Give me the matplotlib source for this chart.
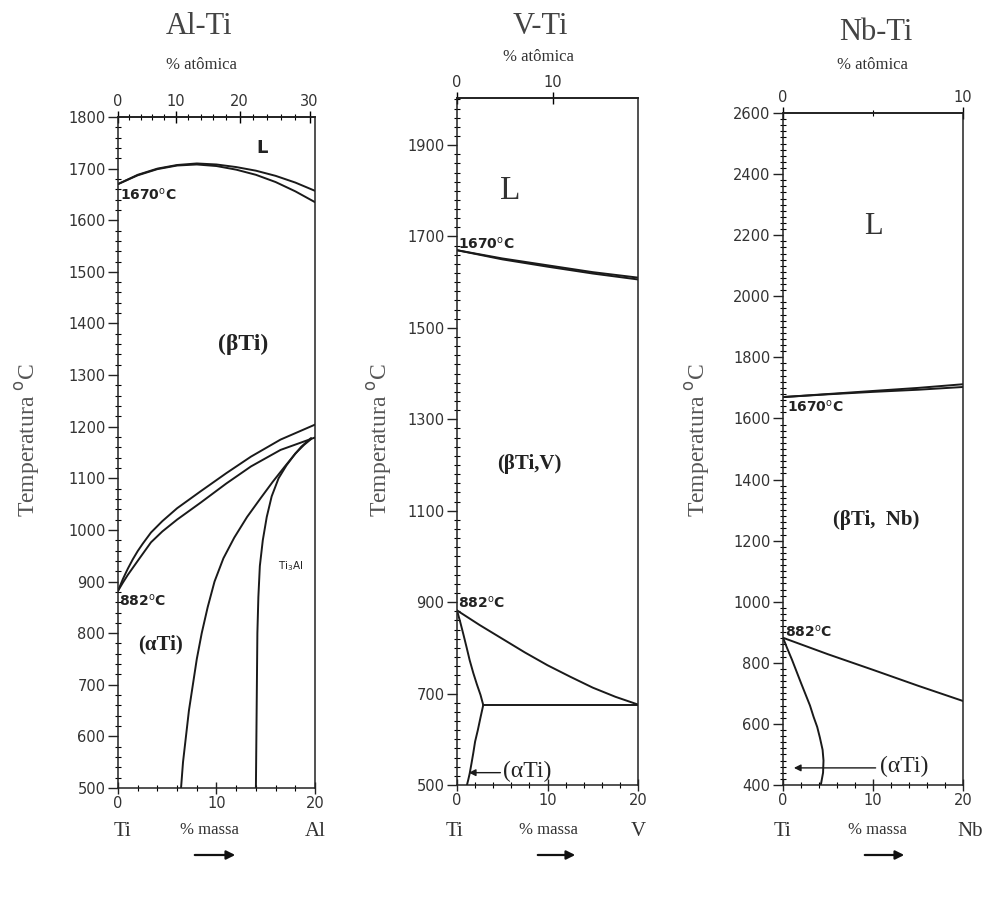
import numpy as np
from matplotlib import pyplot as plt
from matplotlib.ticker import AutoMinorLocator, MultipleLocator, FixedLocator

W, H = 1003, 900

# ---- Al-Ti (x = % massa Al, y = temperatura)
alti_liq_x = [0, 2, 4, 6, 8, 10, 12, 14, 16, 18, 20]
alti_liq_t = [1670, 1688, 1700, 1707, 1710, 1708, 1703, 1696, 1686, 1673, 1657]
alti_sol_t = [1670, 1687, 1699, 1706, 1708, 1705, 1698, 1688, 1674, 1656, 1635]
alti_bup_x = [0, 0.5, 1, 1.5, 2, 2.5, 3.35, 4.5, 6, 8.4, 11, 13.5, 16.5, 20]
alti_bup_t = [882, 905, 925, 943, 959, 973, 995, 1017, 1042, 1075, 1110, 1142, 1175, 1204]
alti_blo_x = [0, 0.5, 1, 2, 3.35, 4.5, 6, 8.4, 11, 13.5, 16.5, 20]
alti_blo_t = [882, 898, 913, 940, 976, 997, 1020, 1053, 1090, 1123, 1155, 1179]
alti_alpha_x = [6.4, 6.6, 6.9, 7.2, 7.6, 8.0, 8.5, 9.1, 9.8, 10.7, 11.8, 13.1, 14.5, 15.7,
                16.9, 17.8, 18.6, 19.6]
alti_alpha_t = [500, 550, 600, 650, 700, 750, 800, 850, 900, 945, 985, 1025, 1062, 1093,
                1122, 1143, 1161, 1178]
alti_ti3al_x = [14.0, 14.05, 14.1, 14.15, 14.25, 14.4, 14.7, 15.1, 15.6, 16.3, 17.1, 18.0,
                18.9, 19.6]
alti_ti3al_t = [500, 600, 700, 800, 870, 930, 980, 1025, 1065, 1100, 1125, 1148, 1165, 1176]

# ---- V-Ti
vti_liq_x = [0, 5, 10, 15, 20]
vti_liq_t = [1670, 1652, 1637, 1622, 1610]
vti_sol_t = [1670, 1650, 1634, 1619, 1606]
vti_beta_x = [0, 2.5, 5, 7.5, 10, 12.5, 15, 17.5, 20]
vti_beta_t = [882, 850, 820, 790, 762, 737, 713, 693, 676]
vti_eut_x = [2.9, 20]
vti_eut_t = [675, 675]
vti_alpha_x = [0, 0.35, 0.7, 1.05, 1.4, 1.8, 2.2, 2.6, 2.9, 2.6, 2.3, 2.0, 1.8, 1.6, 1.4, 1.25, 1.1]
vti_alpha_t = [882, 857, 830, 802, 773, 745, 720, 697, 675, 648, 620, 595, 570, 547, 525, 512, 500]

# ---- Nb-Ti
nbti_liq_x = [0, 5, 10, 15, 20]
nbti_liq_t = [1670, 1680, 1690, 1700, 1712]
nbti_sol_t = [1670, 1679, 1687, 1694, 1703]
nbti_beta_x = [0, 5, 10, 15, 20]
nbti_beta_t = [882, 828, 777, 725, 675]
nbti_alpha_x = [0, 0.5, 1, 1.5, 2, 2.5, 3, 3.4, 3.8, 4.1, 4.4, 4.5, 4.45, 4.2]
nbti_alpha_t = [882, 845, 810, 772, 734, 697, 660, 623, 590, 555, 515, 480, 440, 400]

mass_ticks = [0, 10, 20]
alti_yticks = list(range(500, 1801, 100))
vti_yticks = list(range(500, 1901, 200))
nbti_yticks = list(range(400, 2601, 200))

LC = "#1a1a1a"
SERIF = "Liberation Serif"
SANS = "DejaVu Sans"


def at_from_wt(m_s):
    def f(w):
        w = np.clip(np.asarray(w, dtype=float), 0, 99.9)
        a = w / m_s
        return 100 * a / (a + (100 - w) / 47.87)
    return f


def wt_from_at(m_s):
    def f(a):
        a = np.clip(np.asarray(a, dtype=float), 0, 99.9)
        return 100 * a * m_s / (a * m_s + (100 - a) * 47.87)
    return f


def setup(ax, ylim, yticks, yminor):
    ax.set_xlim(0, 20)
    ax.set_ylim(*ylim)
    ax.set_xticks(mass_ticks)
    ax.set_yticks(yticks)
    ax.xaxis.set_minor_locator(MultipleLocator(2))
    ax.yaxis.set_minor_locator(AutoMinorLocator(yminor))
    ax.tick_params(which="major", direction="out", length=7, width=1, pad=2,
                   labelsize=10.5, labelcolor="#333", colors="#222")
    ax.tick_params(which="minor", direction="inout", length=4, width=0.8)
    ax.tick_params(axis="x", which="major", direction="inout", length=8)
    for lab in ax.get_xticklabels() + ax.get_yticklabels():
        lab.set_family(SANS)
    for s in ax.spines.values():
        s.set_linewidth(1.1)
        s.set_color("#222")


def fpos(px, py):
    return px / W, 1 - py / H


fig = plt.figure(figsize=(W / 100, H / 100), dpi=100)
fig.patch.set_facecolor("white")

ax1 = fig.add_axes([118 / W, 1 - 788 / H, 197 / W, 671 / H])
ax2 = fig.add_axes([457 / W, 1 - 785 / H, 181 / W, 687 / H])
ax3 = fig.add_axes([783 / W, 1 - 785 / H, 180 / W, 672 / H])

setup(ax1, (500, 1800), alti_yticks, 5)
setup(ax2, (500, 2003), vti_yticks, 10)
setup(ax3, (400, 2600), nbti_yticks, 10)

# top axes (% atomica)
top1 = ax1.secondary_xaxis("top", functions=(at_from_wt(26.98), wt_from_at(26.98)))
top1.set_xticks([0, 10, 20, 30])
top1.xaxis.set_minor_locator(MultipleLocator(2))
top2 = ax2.secondary_xaxis("top", functions=(at_from_wt(50.94), wt_from_at(50.94)))
top2.set_xticks([0, 10])
top2.xaxis.set_minor_locator(FixedLocator([]))
top3 = ax3.secondary_xaxis("top", functions=(lambda x: np.asarray(x) / 2, lambda x: np.asarray(x) * 2))
top3.set_xticks([0, 10])
top3.xaxis.set_minor_locator(FixedLocator([5]))
for t in (top1, top2, top3):
    t.tick_params(which="major", direction="inout", length=8, width=1, pad=2,
                  labelsize=10.5, labelcolor="#333")
    t.tick_params(which="minor", direction="inout", length=4, width=0.8)
    t.spines["top"].set_linewidth(1.1)
    for lab in t.get_xticklabels():
        lab.set_family(SANS)

kw = dict(color=LC, lw=1.4, solid_capstyle="round", solid_joinstyle="round")

# Al-Ti curves
ax1.plot(alti_liq_x, alti_liq_t, **kw)
ax1.plot(alti_liq_x, alti_sol_t, **kw)
ax1.plot(alti_bup_x, alti_bup_t, **kw)
ax1.plot(alti_blo_x, alti_blo_t, **kw)
ax1.plot(alti_alpha_x, alti_alpha_t, **kw)
ax1.plot(alti_ti3al_x, alti_ti3al_t, **kw)

# V-Ti curves
ax2.plot(vti_liq_x, vti_liq_t, **kw)
ax2.plot(vti_liq_x, vti_sol_t, **kw)
ax2.plot(vti_beta_x, vti_beta_t, **kw)
ax2.plot(vti_eut_x, vti_eut_t, **kw)
ax2.plot(vti_alpha_x, vti_alpha_t, **kw)

# Nb-Ti curves
ax3.plot(nbti_liq_x, nbti_liq_t, **kw)
ax3.plot(nbti_liq_x, nbti_sol_t, **kw)
ax3.plot(nbti_beta_x, nbti_beta_t, **kw)
ax3.plot(nbti_alpha_x, nbti_alpha_t, **kw)

deg = "$^{\\mathrm{o}}$C"
bold_small = dict(family=SANS, fontsize=10, fontweight="bold", color="#222", va="center", ha="left")
phase = dict(family=SERIF, fontweight="bold", color="#222", ha="center", va="center")

# Al-Ti labels
ax1.text(14.6, 1740, "L", family=SANS, fontsize=13, fontweight="bold", color="#222", ha="center", va="center")
ax1.text(0.2, 1649, "1670" + deg, **bold_small)
ax1.text(12.7, 1359, "(βTi)", fontsize=17, **phase)
ax1.text(0.1, 864, "882" + deg, **bold_small)
ax1.text(4.3, 779, "(αTi)", fontsize=15, **phase)
ax1.text(17.5, 930, "Ti$_3$Al", family=SANS, fontsize=7.5, color="#222", ha="center", va="center")

# V-Ti labels
ax2.text(5.9, 1801, "L", family=SERIF, fontsize=24, color="#333", ha="center", va="center")
ax2.text(0.1, 1685, "1670" + deg, **bold_small)
ax2.text(8.0, 1203, "(βTi,V)", fontsize=15, **phase)
ax2.text(0.1, 898, "882" + deg, **bold_small)
ax2.annotate("", xy=(1.0, 527), xytext=(5.1, 527),
             arrowprops=dict(arrowstyle="-|>", color=LC, lw=1.0, mutation_scale=10))
ax2.text(5.1, 530, "(αTi)", family=SERIF, fontsize=17, color="#222", ha="left", va="center")

# Nb-Ti labels
ax3.text(10.0, 2227, "L", family=SERIF, fontsize=22, color="#333", ha="center", va="center")
ax3.text(0.4, 1638, "1670" + deg, **bold_small)
ax3.text(10.4, 1268, "(βTi,  Nb)", fontsize=15, **phase)
ax3.text(0.2, 903, "882" + deg, **bold_small)
ax3.annotate("", xy=(0.9, 456), xytext=(10.6, 456),
             arrowprops=dict(arrowstyle="-|>", color=LC, lw=1.0, mutation_scale=10))
ax3.text(10.8, 460, "(αTi)", family=SERIF, fontsize=17, color="#222", ha="left", va="center")

# titles and axis captions
titles = [("Al-Ti", 199, 27), ("V-Ti", 540, 27), ("Nb-Ti", 876, 32)]
atom = [(201, 65), (538, 57), (872, 65)]
for (t, x, y), (ax_, ay_) in zip(titles, atom):
    fig.text(*fpos(x, y), t, family=SERIF, fontsize=22, color="#444", ha="center", va="center")
    fig.text(*fpos(ax_, ay_), "% atômica", family=SERIF, fontsize=12, color="#333", ha="center", va="center")

for x in (28, 380, 698):
    fig.text(*fpos(x, 440), "Temperatura " + deg, family=SERIF, fontsize=17, color="#555",
             rotation=90, ha="center", va="center")

bottom = [(123, "Ti", 209, 315, "Al", (192, 238)),
          (455, "Ti", 548, 638, "V", (535, 578)),
          (782, "Ti", 877, 970, "Nb", (862, 907))]
for tx, tl, mx, ex, el, (a0, a1) in bottom:
    fig.text(*fpos(tx, 832), tl, family=SERIF, fontsize=15, color="#333", ha="center", va="center")
    fig.text(*fpos(mx, 830), "% massa", family=SERIF, fontsize=12, color="#333", ha="center", va="center")
    fig.text(*fpos(ex, 832), el, family=SERIF, fontsize=15, color="#333", ha="center", va="center")
    ax1.annotate("", xy=fpos(a1, 855), xytext=fpos(a0, 855), xycoords="figure fraction",
                 textcoords="figure fraction", annotation_clip=False,
                 arrowprops=dict(arrowstyle="-|>", color="#111", lw=1.6, mutation_scale=13))

fig.savefig("out.png", dpi=100, facecolor="white")
